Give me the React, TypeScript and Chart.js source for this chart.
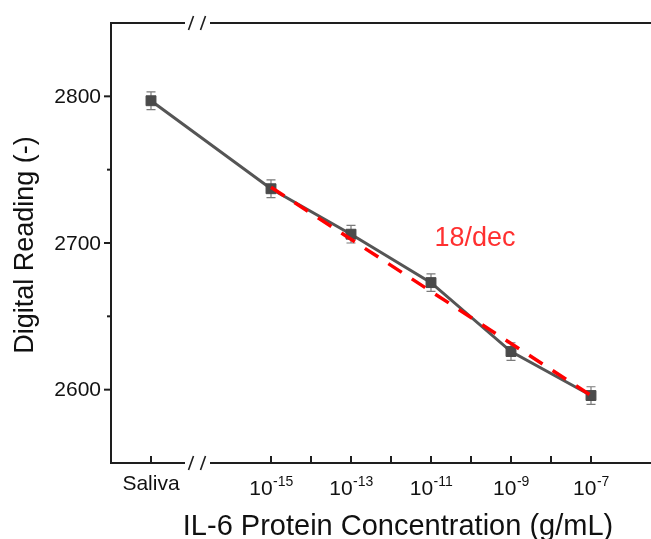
import React, { useEffect, useRef } from 'react';
import { Chart, registerables } from 'chart.js';

Chart.register(...registerables);

// ---- data ----
const categories = ['Saliva', '10^-15', '10^-13', '10^-11', '10^-9', '10^-7'];
const xExponents = [-18, -15, -13, -11, -9, -7];
const readings = [2797, 2737, 2706, 2673, 2626, 2596];
const errors = [6, 6, 6, 6, 6, 6];
const fitX = [-15, -7];
const fitY = [2738, 2596];
const xMinorTicks = [-14, -12, -10, -8];
const yMajorTicks = [2600, 2700, 2800];
const yMinorTicks = [2650, 2750];
const slopeLabel = '18/dec';
const xTitle = 'IL-6 Protein Concentration (g/mL)';
const yTitle = 'Digital Reading (-)';

const FONT = "'Liberation Sans', Arial, sans-serif";
const AXIS_COLOR = '#1e1e1e';

const customPlugin = {
  id: 'customAxes',
  beforeDatasetsDraw(chart: any) {
    const ctx = chart.ctx;
    const xs = chart.scales.x;
    const ys = chart.scales.y;
    ctx.save();
    ctx.strokeStyle = '#7a7a7a';
    ctx.lineWidth = 1.2;
    xExponents.forEach((xv, i) => {
      const px = xs.getPixelForValue(xv);
      const top = ys.getPixelForValue(readings[i] + errors[i]);
      const bot = ys.getPixelForValue(readings[i] - errors[i]);
      ctx.beginPath();
      ctx.moveTo(px, top);
      ctx.lineTo(px, bot);
      ctx.moveTo(px - 4.5, top);
      ctx.lineTo(px + 4.5, top);
      ctx.moveTo(px - 4.5, bot);
      ctx.lineTo(px + 4.5, bot);
      ctx.stroke();
    });
    ctx.restore();
  },
  afterDraw(chart: any) {
    const ctx = chart.ctx;
    const xs = chart.scales.x;
    const ys = chart.scales.y;
    const { left: L, right: R, top: T, bottom: B } = chart.chartArea;
    ctx.save();
    // axis frame with breaks
    const breakCenter = xs.getPixelForValue(-16.85);
    const gapL = breakCenter - 13;
    const gapR = breakCenter + 14;
    ctx.strokeStyle = AXIS_COLOR;
    ctx.lineWidth = 2;
    ctx.lineCap = 'square';
    ctx.beginPath();
    ctx.moveTo(gapL, T);
    ctx.lineTo(L, T);
    ctx.lineTo(L, B);
    ctx.lineTo(gapL, B);
    ctx.moveTo(gapR, T);
    ctx.lineTo(R + 2, T);
    ctx.moveTo(gapR, B);
    ctx.lineTo(R + 2, B);
    ctx.stroke();
    // break slashes
    ctx.lineWidth = 1.6;
    ctx.lineCap = 'butt';
    [T, B].forEach((yy) => {
      [breakCenter - 6, breakCenter + 6].forEach((sx) => {
        ctx.beginPath();
        ctx.moveTo(sx - 2.5, yy + 7);
        ctx.lineTo(sx + 2.5, yy - 7);
        ctx.stroke();
      });
    });
    // x ticks (inward)
    ctx.lineWidth = 2;
    [...xExponents, ...xMinorTicks].forEach((xv) => {
      const px = Math.round(xs.getPixelForValue(xv));
      ctx.beginPath();
      ctx.moveTo(px, B);
      ctx.lineTo(px, B - 7);
      ctx.stroke();
    });
    // y ticks (outward)
    yMajorTicks.forEach((yv) => {
      const py = ys.getPixelForValue(yv);
      ctx.beginPath();
      ctx.moveTo(L, py);
      ctx.lineTo(L - 7, py);
      ctx.stroke();
    });
    yMinorTicks.forEach((yv) => {
      const py = ys.getPixelForValue(yv);
      ctx.beginPath();
      ctx.moveTo(L, py);
      ctx.lineTo(L - 4, py);
      ctx.stroke();
    });
    // y tick labels
    ctx.fillStyle = '#111';
    ctx.font = `21px ${FONT}`;
    ctx.textAlign = 'right';
    ctx.textBaseline = 'middle';
    yMajorTicks.forEach((yv) => {
      ctx.fillText(String(yv), L - 10, ys.getPixelForValue(yv) + 1);
    });
    // x tick labels
    ctx.textBaseline = 'alphabetic';
    categories.forEach((lab, i) => {
      const px = xs.getPixelForValue(xExponents[i]);
      if (lab.includes('^')) {
        const [base, exp] = lab.split('^');
        ctx.font = `21px ${FONT}`;
        const wb = ctx.measureText(base).width;
        ctx.font = `14px ${FONT}`;
        const we = ctx.measureText(exp).width;
        const start = px - (wb + we) / 2;
        ctx.textAlign = 'left';
        ctx.font = `21px ${FONT}`;
        ctx.fillText(base, start, B + 32);
        ctx.font = `14px ${FONT}`;
        ctx.fillText(exp, start + wb + 0.5, B + 23);
      } else {
        ctx.textAlign = 'center';
        ctx.font = `21px ${FONT}`;
        ctx.fillText(lab, px, B + 27);
      }
    });
    // slope annotation
    ctx.fillStyle = '#ff3030';
    ctx.font = `27px ${FONT}`;
    ctx.textAlign = 'center';
    ctx.textBaseline = 'middle';
    ctx.fillText(slopeLabel, xs.getPixelForValue(-9.9), ys.getPixelForValue(2703));
    // titles
    ctx.fillStyle = '#111';
    ctx.font = `29px ${FONT}`;
    ctx.textAlign = 'center';
    ctx.textBaseline = 'alphabetic';
    ctx.fillText(xTitle, 398, 535);
    ctx.save();
    ctx.translate(26, 245);
    ctx.rotate(-Math.PI / 2);
    ctx.font = `27px ${FONT}`;
    ctx.textBaseline = 'middle';
    ctx.fillText(yTitle, 0, 0);
    ctx.restore();
    ctx.restore();
  },
};

export default function App() {
  const ref = useRef<HTMLCanvasElement | null>(null);
  useEffect(() => {
    if (!ref.current) return;
    const chart = new Chart(ref.current, {
      type: 'line',
      data: {
        datasets: [
          {
            label: 'fit',
            data: fitX.map((x, i) => ({ x, y: fitY[i] })),
            borderColor: '#ff0000',
            borderWidth: 3.5,
            borderDash: [16, 12],
            pointRadius: 0,
            order: 0,
          },
          {
            label: 'reading',
            data: xExponents.map((x, i) => ({ x, y: readings[i] })),
            borderColor: '#555555',
            borderWidth: 3,
            pointStyle: 'rect',
            pointRadius: 7,
            pointBorderWidth: 1,
            pointBackgroundColor: '#4a4a4a',
            pointBorderColor: '#4a4a4a',
            order: 1,
          },
        ],
      },
      options: {
        animation: false,
        responsive: false,
        layout: { autoPadding: false, padding: { left: 111, top: 23, right: 0, bottom: 76 } },
        plugins: { legend: { display: false }, tooltip: { enabled: false } },
        scales: {
          x: { type: 'linear', min: -19, max: -5.5, display: false },
          y: { type: 'linear', min: 2550, max: 2850, display: false },
        },
      },
      plugins: [customPlugin],
    });
    return () => chart.destroy();
  }, []);
  return (
    <div style={{ position: 'fixed', left: 0, top: 0, width: 651, height: 539, background: '#fff' }}>
      <canvas ref={ref} width={651} height={539} style={{ display: 'block' }} />
    </div>
  );
}
